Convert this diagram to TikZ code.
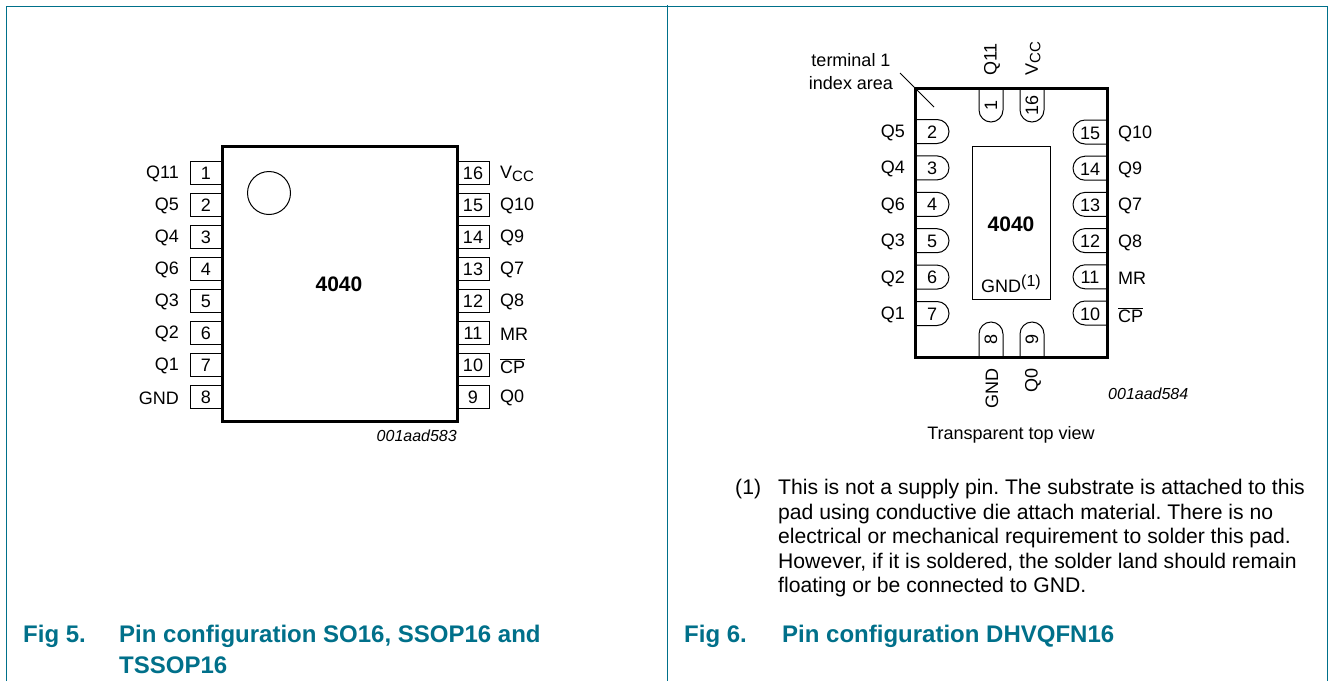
\documentclass[tikz,border=0pt]{standalone}
\usepackage{fontspec}
\setmainfont{Liberation Sans}
\frenchspacing
\definecolor{nxp}{HTML}{00708A}
\tikzset{
  frameline/.style={draw=nxp,line width=0.9pt},
  chip/.style={draw=black,line width=3pt,line cap=rect,outer sep=0pt,inner sep=0pt,anchor=north west},
  pinbox/.style={draw=black,line width=1pt},
  lbl/.style={font=\fontsize{18}{20}\selectfont,inner sep=0pt,text=black},
  captxt/.style={font=\fontsize{24}{28}\selectfont\bfseries,text=nxp,inner sep=0pt,anchor=west},
  code/.style={font=\fontsize{16}{20}\selectfont\itshape,inner sep=0pt},
  chipname/.style={font=\fontsize{21}{24}\selectfont\bfseries,inner sep=0pt},
}
\newcommand{\ovl}[1]{\ensuremath{\overline{\mbox{#1}}}}
\newcommand{\vcc}{V\raisebox{-2.5pt}{\fontsize{15}{15}\selectfont CC}}
\newcommand{\gndone}{GND\raisebox{6pt}{\fontsize{16}{16}\selectfont (1)}}
\begin{document}
\begin{tikzpicture}[x=1pt,y=-1pt]
\useasboundingbox (0,0) rectangle (1328,681);
\fill[white] (0,0) rectangle (1328,681);
% frame
\draw[frameline] (6,681) -- (6,6) -- (1327,6) -- (1327,681);
\draw[frameline] (667,5) -- (667,681);
% left chip
\node[chip,minimum width=235pt,minimum height=275pt] (chipL) at (222,146) {};
\node[chipname] (nameL) at (339,284) {4040};
\node[draw=black,line width=1pt,circle,minimum size=43pt,inner sep=0pt,outer sep=0pt] (dot) at (269,193) {};
\node[code,anchor=east] (codeL) at (457,436) {001aad583};
\foreach \n/\t [count=\i from 0] in {1/Q11,2/Q5,3/Q4,4/Q6,5/Q3,6/Q2,7/Q1,8/GND}{
  \pgfmathsetmacro{\yy}{172.5+32*\i}
  \draw[pinbox] (222,\yy-11.5) -- (190,\yy-11.5) -- (190,\yy+11.5) -- (222,\yy+11.5);
  \node[lbl] (pl\n) at (206,\yy+0.5) {\n};
  \node[lbl,anchor=east] (tl\n) at (179,\yy+1.5) {\t};
}
\foreach \n/\t [count=\i from 0] in {16/\vcc,15/Q10,14/Q9,13/Q7,12/Q8,11/MR,10/\ovl{CP},9/Q0}{
  \pgfmathsetmacro{\yy}{172.5+32*\i}
  \draw[pinbox] (457,\yy-11.5) -- (489,\yy-11.5) -- (489,\yy+11.5) -- (457,\yy+11.5);
  \node[lbl] (pr\n) at (473,\yy+0.5) {\n};
  \node[lbl,anchor=west] (tr\n) at (500,\yy+1.5) {\t};
}
% right chip
\coordinate (iA) at (900,73);
\coordinate (iB) at (934,107);
\node[lbl,align=center,font=\fontsize{18}{23}\selectfont] (term) at (851,71.5) {terminal 1\\index area};
\draw[pinbox] (iA) -- (iB);
\foreach \n/\t [count=\i from 0] in {2/Q5,3/Q4,4/Q6,5/Q3,6/Q2,7/Q1}{
  \pgfmathsetmacro{\yy}{131.5+36.4*\i}
  \draw[pinbox] (915,\yy-12) -- (937,\yy-12) arc[start angle=-90,end angle=90,radius=12] -- (915,\yy+12);
  \node[lbl] (qa\n) at (932,\yy+0.5) {\n};
  \node[lbl,anchor=east] (qu\n) at (905,\yy+1.5) {\t};
}
\foreach \n/\t [count=\i from 0] in {15/Q10,14/Q9,13/Q7,12/Q8,11/MR,10/\ovl{CP}}{
  \pgfmathsetmacro{\yy}{132+36.2*\i}
  \draw[pinbox] (1107,\yy-12) -- (1085,\yy-12) arc[start angle=-90,end angle=-270,radius=12] -- (1107,\yy+12);
  \node[lbl] (qb\n) at (1090,\yy+1) {\n};
  \node[lbl,anchor=west] (qs\n) at (1118,\yy+2) {\t};
}
% top pins
\foreach \xx/\n/\t in {991/1/Q11,1032/16/\vcc}{
  \draw[pinbox] (\xx-12,88) -- (\xx-12,110) arc[start angle=180,end angle=0,radius=12] -- (\xx+12,88);
  \node[lbl,rotate=90] at (\xx,105) {\n};
  \node[lbl,rotate=90,anchor=west] at (\xx+1,76) {\t};
}
% bottom pins
\foreach \xx/\n/\t in {991/8/GND,1032/9/Q0}{
  \draw[pinbox] (\xx-12,357) -- (\xx-12,334) arc[start angle=180,end angle=360,radius=12] -- (\xx+12,357);
  \node[lbl,rotate=90] at (\xx,339) {\n};
  \node[lbl,rotate=90,anchor=east] at (\xx+1,368) {\t};
}
\node[chip,minimum width=192pt,minimum height=269pt] (chipR) at (915,88) {};
\node[draw=black,line width=1pt,minimum width=78pt,minimum height=153pt,inner sep=0pt,outer sep=0pt,anchor=north west] (pad) at (972,146) {};
\node[chipname] (nameR) at (1011,224) {4040};
\node[lbl] (gnd) at (1011,284) {\gndone};
\node[code,anchor=west] (codeR) at (1108,394) {001aad584};
\node[lbl] (tv) at (1011,435) {Transparent top view};
% note
\node[lbl,anchor=west,font=\fontsize{21.15}{24.6}\selectfont] (nm) at (735,489) {(1)};
\node[lbl,anchor=north west,align=left,font=\fontsize{21.15}{24.6}\selectfont] (note) at (778,479) {This is not a supply pin. The substrate is attached to this\\pad using conductive die attach material. There is no\\electrical or mechanical requirement to solder this pad.\\However, if it is soldered, the solder land should remain\\floating or be connected to GND.};
% captions
\node[captxt] (c5) at (23,636) {Fig 5.};
\node[captxt] (c5a) at (119,636) {Pin configuration SO16, SSOP16 and};
\node[captxt] (c5b) at (119,665) {TSSOP16};
\node[captxt] (c6) at (684,636) {Fig 6.};
\node[captxt] (c6a) at (782,636) {Pin configuration DHVQFN16};
\end{tikzpicture}
\end{document}
